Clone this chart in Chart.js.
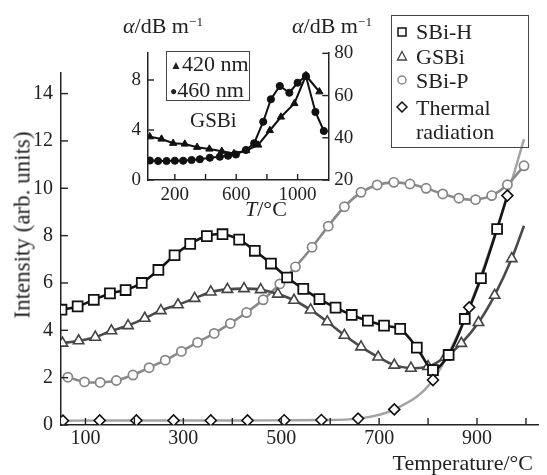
<!DOCTYPE html>
<html>
<head>
<meta charset="utf-8">
<script src="https://cdn.jsdelivr.net/npm/chart.js@4.4.0/dist/chart.umd.min.js"></script>
<style>
  html, body { margin: 0; padding: 0; background: #fff; }
  #wrap { position: relative; width: 547px; height: 475px; overflow: hidden;
          font-family: 'Liberation Serif', 'Times New Roman', serif; color: #222; }
  canvas { position: absolute; }
  .txt { position: absolute; white-space: nowrap; line-height: 1; }
  .box { position: absolute; border: 1px solid #444; box-sizing: border-box; }
  sup { font-size: 0.6em; vertical-align: 0.55em; line-height: 0; }
</style>
</head>
<body>
<div id="wrap">
  <canvas id="mainChart" width="547" height="475" style="left:0;top:0"></canvas>
  <canvas id="insetChart" width="290" height="230" style="left:100px;top:0"></canvas>

  <!-- axis titles -->
  <div class="txt" style="left:22px;top:225px;font-size:23px;transform:translate(-50%,-50%) rotate(-90deg)">Intensity (arb. units)</div>
  <div class="txt" style="right:14px;top:452px;font-size:22px">Temperature/°C</div>

  <!-- main legend -->
  <div class="box" style="left:391px;top:15px;width:138px;height:133px"></div>
  <svg style="position:absolute;left:396px;top:26px" width="12" height="12"><rect x="2" y="2" width="8" height="8" fill="#fff" stroke="#111" stroke-width="1.5"/></svg>
  <svg style="position:absolute;left:396px;top:50px" width="12" height="12"><polygon points="6,1.5 10.5,10 1.5,10" fill="#fff" stroke="#444" stroke-width="1.3"/></svg>
  <svg style="position:absolute;left:396px;top:74px" width="12" height="12"><circle cx="6" cy="6" r="4" fill="#fff" stroke="#888" stroke-width="1.5"/></svg>
  <svg style="position:absolute;left:396px;top:101px" width="12" height="12"><polygon points="6,1 11,6 6,11 1,6" fill="#fff" stroke="#111" stroke-width="1.5"/></svg>
  <div class="txt" style="left:416px;top:21px;font-size:22px">SBi-H</div>
  <div class="txt" style="left:416px;top:46px;font-size:22px">GSBi</div>
  <div class="txt" style="left:416px;top:70px;font-size:22px">SBi-P</div>
  <div class="txt" style="left:416px;top:97px;font-size:22px">Thermal</div>
  <div class="txt" style="left:416px;top:121px;font-size:22px">radiation</div>

  <!-- inset titles and legend -->
  <div class="txt" style="left:123px;top:15px;font-size:22px"><i>α</i>/dB m<sup>−1</sup></div>
  <div class="txt" style="left:292px;top:15px;font-size:22px"><i>α</i>/dB m<sup>−1</sup></div>
  <div class="txt" style="left:245px;top:198px;font-size:22px"><i>T</i>/°C</div>
  <div class="box" style="left:166px;top:51px;width:84px;height:50px;background:#fff"></div>
  <div class="txt" style="left:170px;top:53px;font-size:22px"><span style="font-size:12px;vertical-align:2px">▲</span>420 nm</div>
  <div class="txt" style="left:170px;top:79px;font-size:22px"><span style="font-size:12px;vertical-align:2px">●</span>460 nm</div>
  <div class="txt" style="left:190px;top:110px;font-size:21px">GSBi</div>
</div>

<script>
// ---- main chart data (temperature in °C, intensity in arb. units)
const sbiHTemp = [51, 84, 117, 150, 182, 215, 249, 282, 314, 348, 380, 414, 446, 479, 512, 545, 578, 611, 644, 677, 710, 743, 777, 810, 842, 875, 908, 941, 962];
const sbiHVal = [4.87, 5.01, 5.29, 5.56, 5.70, 6.00, 6.55, 7.17, 7.65, 7.98, 8.06, 7.83, 7.36, 6.82, 6.23, 5.75, 5.32, 4.96, 4.65, 4.41, 4.20, 4.06, 3.27, 2.32, 2.96, 4.48, 6.20, 8.28, 9.69];

const gsbiTemp = [53, 86, 120, 153, 187, 221, 254, 289, 323, 356, 390, 424, 458, 493, 526, 560, 594, 629, 663, 698, 731, 765, 800, 835, 868, 903, 936, 971, 996];
const gsbiVal = [3.46, 3.56, 3.71, 3.98, 4.20, 4.51, 4.83, 5.08, 5.35, 5.62, 5.73, 5.76, 5.72, 5.53, 5.27, 4.86, 4.36, 3.79, 3.30, 2.87, 2.53, 2.40, 2.47, 2.86, 3.45, 4.33, 5.48, 7.03, 8.42];

const sbiPTemp = [64, 98, 130, 163, 197, 230, 263, 296, 329, 363, 396, 429, 463, 497, 529, 563, 596, 629, 663, 696, 730, 763, 796, 830, 863, 897, 930, 962, 996];
const sbiPVal = [2.02, 1.82, 1.80, 1.88, 2.11, 2.42, 2.74, 3.11, 3.49, 3.87, 4.29, 4.75, 5.29, 5.96, 6.68, 7.51, 8.40, 9.22, 9.83, 10.14, 10.25, 10.18, 10.00, 9.76, 9.58, 9.52, 9.69, 10.15, 10.95];

const thermalTemp = [54, 129, 204, 280, 356, 431, 506, 582, 657, 731, 810, 884, 962];
const thermalVal = [0.18, 0.19, 0.19, 0.19, 0.19, 0.19, 0.20, 0.21, 0.27, 0.66, 1.90, 4.97, 9.69];
// end of the fitted thermal-radiation curve (no marker)
const thermalFitEndTemp = 996;
const thermalFitEndVal = 12.08;

const xTicks = [100, 200, 300, 400, 500, 600, 700, 800, 900, 1000];
const xLabels = [100, 300, 500, 700, 900];
const yTicks = [0, 2, 4, 6, 8, 10, 12, 14];

// ---- inset data (temperature in °C, alpha in dB/m)
const a420Temp = [37, 113, 189, 265, 345, 425, 506, 585, 665, 743, 819, 891, 979, 1054, 1142];
const a420Val = [3.46, 3.28, 2.94, 2.88, 2.62, 2.48, 2.30, 2.12, 2.36, 2.80, 3.96, 5.04, 6.12, 8.36, 7.06];
const a460Temp = [37, 91, 146, 200, 254, 309, 363, 428, 493, 547, 598, 663, 717, 776, 826, 884, 946, 1000, 1054, 1116, 1171];
const a460Val = [1.56, 1.52, 1.52, 1.54, 1.54, 1.60, 1.66, 1.78, 1.86, 1.94, 2.04, 2.40, 2.94, 4.66, 6.46, 7.52, 6.98, 7.78, 8.32, 5.44, 3.92];

const insetXTicks = [200, 400, 600, 800, 1000];
const insetXLabels = [200, 600, 1000];
const insetYTicks = [0, 2, 4, 6, 8, 10];
const insetYLabels = [0, 4, 8];
const insetY2Ticks = [20, 40, 60, 80];

const pts = (xs, ys) => xs.map((x, i) => ({ x: x, y: ys[i] }));
const FONT = 'Liberation Serif';

// tick marks drawn inward, like the original figure
const inwardTicks = {
    id: 'inwardTicks',
    afterDraw(chart, args, opts) {
        const ctx = chart.ctx;
        const len = opts.length || 7;
        ctx.save();
        ctx.strokeStyle = '#222';
        ctx.lineWidth = 1.4;
        Object.values(chart.scales).forEach(scale => {
            scale.ticks.forEach(t => {
                ctx.beginPath();
                if (scale.isHorizontal()) {
                    const x = scale.getPixelForValue(t.value);
                    ctx.moveTo(x, scale.top);
                    ctx.lineTo(x, scale.top - len);
                } else if (scale.position === 'left') {
                    const y = scale.getPixelForValue(t.value);
                    ctx.moveTo(scale.right, y);
                    ctx.lineTo(scale.right + len, y);
                } else {
                    const y = scale.getPixelForValue(t.value);
                    ctx.moveTo(scale.left, y);
                    ctx.lineTo(scale.left - len, y);
                }
                ctx.stroke();
            });
        });
        ctx.restore();
    }
};

function setTicks(values) {
    return function(scale) {
        scale.ticks = values.map(v => ({ value: v }));
    };
}

function lastHidden(r, n) {
    return function(ctx) { return ctx.dataIndex === n - 1 ? 0 : r; };
}

// 1. Main chart
new Chart(document.getElementById('mainChart').getContext('2d'), {
    type: 'scatter',
    data: {
        datasets: [{
            label: 'Thermal radiation',
            data: pts(thermalTemp, thermalVal),
            showLine: false,
            pointStyle: 'rectRot',
            pointRadius: 5.5,
            pointBackgroundColor: '#fff',
            pointBorderColor: '#111',
            pointBorderWidth: 1.6
        }, {
            label: 'SBi-H',
            data: pts(sbiHTemp, sbiHVal),
            showLine: true,
            tension: 0.3,
            borderColor: '#161616',
            borderWidth: 2.6,
            pointStyle: 'rect',
            pointRadius: lastHidden(7, sbiHTemp.length),
            pointBackgroundColor: '#fff',
            pointBorderColor: '#111',
            pointBorderWidth: 1.8
        }, {
            label: 'GSBi',
            data: pts(gsbiTemp, gsbiVal),
            showLine: true,
            tension: 0.3,
            borderColor: '#4a4a4a',
            borderWidth: 2.6,
            pointStyle: 'triangle',
            pointRadius: lastHidden(6, gsbiTemp.length),
            pointBackgroundColor: '#fff',
            pointBorderColor: '#444',
            pointBorderWidth: 1.6
        }, {
            label: 'SBi-P',
            data: pts(sbiPTemp, sbiPVal),
            showLine: true,
            tension: 0.3,
            borderColor: '#8a8a8a',
            borderWidth: 2.6,
            pointStyle: 'circle',
            pointRadius: 4.6,
            pointBackgroundColor: '#fff',
            pointBorderColor: '#858585',
            pointBorderWidth: 1.7
        }, {
            label: 'fit',
            data: pts(thermalTemp.concat([thermalFitEndTemp]), thermalVal.concat([thermalFitEndVal])),
            showLine: true,
            cubicInterpolationMode: 'monotone',
            borderColor: '#a3a3a3',
            borderWidth: 2.4,
            pointRadius: 0
        }]
    },
    options: {
        responsive: false,
        animation: false,
        layout: { padding: { top: 73, right: 1, left: 0, bottom: 0 } },
        plugins: {
            legend: { display: false },
            tooltip: { enabled: false },
            inwardTicks: { length: 7 }
        },
        scales: {
            x: {
                type: 'linear',
                min: 50,
                max: 1025,
                afterBuildTicks: setTicks(xTicks),
                afterFit: function(scale) { scale.height = 50; },
                grid: { display: false, drawTicks: false },
                border: { display: true, color: '#222', width: 1.5 },
                ticks: {
                    autoSkip: false,
                    maxRotation: 0,
                    padding: 2,
                    color: '#222',
                    font: { family: FONT, size: 20 },
                    callback: function(value) {
                        return xLabels.includes(value) ? String(value) : '';
                    }
                }
            },
            y: {
                min: 0,
                max: 14.87,
                afterBuildTicks: setTicks(yTicks),
                afterFit: function(scale) { scale.width = 61; },
                grid: { display: false, drawTicks: false },
                border: { display: true, color: '#222', width: 1.5 },
                ticks: {
                    padding: 8,
                    color: '#222',
                    font: { family: FONT, size: 20 }
                }
            }
        }
    },
    plugins: [inwardTicks]
});

// 2. Inset chart (GSBi attenuation)
new Chart(document.getElementById('insetChart').getContext('2d'), {
    type: 'scatter',
    data: {
        datasets: [{
            label: '420 nm',
            data: pts(a420Temp, a420Val),
            showLine: true,
            borderColor: '#111',
            borderWidth: 2,
            pointStyle: 'triangle',
            pointRadius: 4.2,
            pointBackgroundColor: '#111',
            pointBorderColor: '#111',
            pointBorderWidth: 1
        }, {
            label: '460 nm',
            data: pts(a460Temp, a460Val),
            showLine: true,
            borderColor: '#111',
            borderWidth: 2,
            pointStyle: 'circle',
            pointRadius: 3.6,
            pointBackgroundColor: '#111',
            pointBorderColor: '#111',
            pointBorderWidth: 1
        }]
    },
    options: {
        responsive: false,
        animation: false,
        layout: { padding: { top: 52.5, right: 0, left: 0, bottom: 0 } },
        plugins: {
            legend: { display: false },
            tooltip: { enabled: false },
            inwardTicks: { length: 6 }
        },
        scales: {
            x: {
                type: 'linear',
                min: 25,
                max: 1200,
                afterBuildTicks: setTicks(insetXTicks),
                afterFit: function(scale) { scale.height = 50; },
                grid: { display: false, drawTicks: false },
                border: { display: true, color: '#222', width: 1.5 },
                ticks: {
                    autoSkip: false,
                    maxRotation: 0,
                    padding: 4,
                    color: '#222',
                    font: { family: FONT, size: 19 },
                    callback: function(value) {
                        return insetXLabels.includes(value) ? String(value) : '';
                    }
                }
            },
            y: {
                position: 'left',
                min: 0,
                max: 10.2,
                afterBuildTicks: setTicks(insetYTicks),
                afterFit: function(scale) { scale.width = 48; },
                grid: { display: false, drawTicks: false },
                border: { display: true, color: '#222', width: 1.5 },
                ticks: {
                    padding: 7,
                    color: '#222',
                    font: { family: FONT, size: 19 },
                    callback: function(value) {
                        return insetYLabels.includes(value) ? String(value) : '';
                    }
                }
            },
            y2: {
                position: 'right',
                min: 20,
                max: 80.4,
                afterBuildTicks: setTicks(insetY2Ticks),
                afterFit: function(scale) { scale.width = 61.7; },
                grid: { display: false, drawTicks: false },
                border: { display: true, color: '#222', width: 1.5 },
                ticks: {
                    padding: 6,
                    color: '#222',
                    font: { family: FONT, size: 19 }
                }
            }
        }
    },
    plugins: [inwardTicks]
});
</script>
</body>
</html>
